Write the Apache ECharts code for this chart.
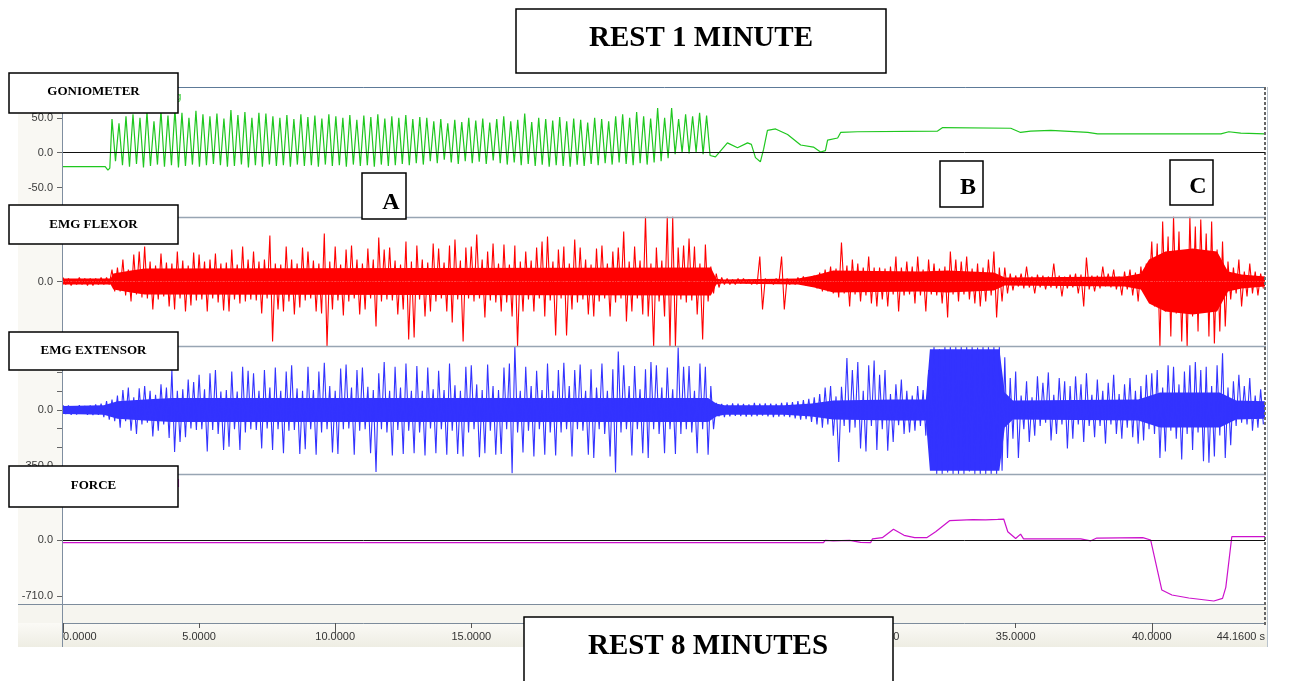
<!DOCTYPE html>
<html><head><meta charset="utf-8">
<script src="https://cdn.jsdelivr.net/npm/echarts@6/dist/echarts.min.js"></script>
<style>html,body{margin:0;padding:0;background:#fff;}#c{width:1289px;height:681px;}</style>
</head><body><div id="c"></div>
<script>
// ---------------- DATA ----------------
const T_MAX = 44.16;
const xTickLabels = [0, 5, 10, 15, 20, 25, 30, 35, 40, 44.16];
const xMajorTicks = [0, 10, 20, 30, 40];
const xMinorTicks = [5, 15, 25, 35];

const gonioTicks = [50, 0, -50];
const flexorTicks = [0];
const extensorLabels = [0, -350];
const extensorTicks = [350, 233.3, 116.7, 0, -116.7, -233.3, -350];
const forceTicks = [0, -710];

// goniometer (deg): lead-in, oscillation (alternating peak / trough from 1.8 s), tail
const gonioLead = [[0, -20], [1.55, -20], [1.65, -25], [1.72, -22]];
const gonioWaveStart = 1.8, gonioWaveStep = 0.1285;
const gonioWave = [
  48,-12, 42,-18, 52,-20, 55,-16, 50,-21, 58,-19, 45,-17, 60,-20, 53,-18, 62,-21, 57,-19, 50,-17, 60,-20, 55,-18, 52,-16,
  56,-18, 49,-20, 61,-19, 54,-17, 58,-21, 50,-18, 57,-20,
  56,-17, 52,-19, 50,-18, 54,-20, 48,-17, 55,-19, 51,-18, 53,-20, 49,-17, 55,-19, 52,-18, 50,-20, 54,-17, 47,-19, 53,-18,
  51,-20, 55,-17, 49,-19, 52,-18, 50,-16, 54,-18, 48,-15, 51,-17,
  50,-12, 45,-15, 48,-10, 42,-14, 47,-16, 44,-12, 50,-15, 46,-13, 49,-16, 43,-11, 48,-15, 52,-17, 45,-14, 47,-18, 56,-16,
  44,-19, 50,-17, 48,-20, 46,-18, 51,-19, 45,-20, 49,-17, 47,-19, 43,-16, 50,-18, 48,-15, 45,-17, 52,-14,
  55,-16, 50,-18, 58,-15, 52,-17, 49,-14, 64,-12, 50,-8, 64,-2, 48,0, 55,-1, 52,1, 57,-2, 53,-4
];
const gonioTail = [
  [23.97,-6],[24.41,14],[24.78,7],[25.15,14],[25.29,12],[25.44,-7],[25.62,-13],[25.74,5],[25.88,32],[26.18,34],
  [26.62,26],[27.10,11],[27.57,8],[27.83,1],[28.01,3],[28.09,18],[28.46,21],[28.57,29],[29.19,30],[32.13,31],
  [32.32,36],[34.82,35],[35.18,29],[35.55,31],[36.29,32],[37.65,29],[38.01,27],[42.54,27],[42.83,30],[43.27,28],[44.16,27]
];

// EMG samples every 0.1 s
const emgStep = 0.1;
const flexor = [
  4,-3,3,-4,2,-3,4,-3,3,-4,
  3,-4,3,-3,4,-3,4,-3,12,-10,
  14,-10,22,-14,12,-20,27,-13,30,-16,
  35,-17,20,-28,16,-18,28,-15,19,-25,
  18,-28,30,-17,21,-30,16,-24,29,-19,
  27,-18,20,-30,22,-17,28,-21,18,-29,
  19,-30,32,-18,17,-22,35,-20,22,-18,
  30,-19,20,-32,22,-17,46,-60,18,-28,
  17,-30,35,-20,22,-33,18,-26,34,-19,
  30,-17,21,-30,18,-32,48,-65,20,-28,
  35,-19,17,-34,32,-20,36,-17,22,-33,
  18,-28,33,-17,22,-45,44,-20,32,-18,
  34,-19,21,-33,17,-28,40,-58,20,-56,
  36,-18,22,-35,19,-30,38,-20,33,-17,
  19,-30,36,-41,42,-18,21,-60,34,-17,
  35,-20,47,-17,22,-36,30,-19,38,-21,
  18,-30,37,-21,17,-35,36,-65,20,-30,
  30,-18,21,-30,34,-17,40,-35,45,-19,
  20,-54,32,-17,35,-54,18,-28,42,-21,
  34,-18,22,-33,17,-35,33,-20,36,-17,
  18,-35,30,-21,34,-17,50,-40,20,-30,
  35,-17,21,-33,65,-35,18,-65,34,-20,
  21,-35,65,-65,65,-65,34,-18,36,-21,
  43,-19,35,-33,18,-58,37,-20,15,-12,
  8,-6,4,-3,3,-3,2,-3,3,-2,
  3,-2,2,-3,2,-3,25,-28,3,-2,
  2,-3,3,-2,25,-28,3,-3,2,-3,
  4,-3,5,-4,4,-5,6,-7,9,-10,
  12,-10,15,-12,13,-16,39,-12,16,-25,
  22,-13,18,-20,14,-14,25,-22,14,-25,
  14,-18,13,-25,15,-13,25,-30,14,-14,
  20,-13,15,-22,25,-14,12,-30,22,-13,
  18,-14,13,-22,15,-36,30,-13,22,-20,
  20,-13,25,-18,13,-22,18,-25,14,-20,
  22,-14,30,-36,14,-20,14,-12,8,-9,
  6,-5,8,-7,15,-6,5,-12,7,-6,
  6,-8,5,-6,18,-7,6,-15,5,-7,
  7,-6,8,-12,7,-25,24,-8,6,-10,
  6,-7,15,-5,8,-6,12,-8,5,-14,
  10,-8,12,-14,9,-20,15,-10,18,-12,
  40,-25,38,-65,60,-30,45,-55,65,-32,
  50,-60,30,-65,65,-35,55,-50,62,-30,
  48,-55,60,-62,32,-50,40,-45,20,-18,
  14,-12,22,-25,10,-15,18,-12,10,-14,
  8,-7
];
const flexorCore = [
  [0,3],[1.75,3],[1.85,8],[2.5,11],[3,13],[23.8,14],[24,3],[24.2,2],[27,3],[27.6,6],[28.3,11],[31.5,10],
  [32.5,11],[34.2,9],[34.6,4],[39,5],[39.6,8],[39.9,22],[40.5,30],[41.5,33],[42.4,30],[42.8,10],[43.3,7],[44.16,5]
];
const extensor = [
  30,-25,28,-30,22,-28,30,-24,26,-30,
  28,-32,35,-30,40,-45,55,-60,65,-70,
  90,-110,125,-70,140,-130,80,-150,135,-90,
  150,-80,120,-165,95,-130,160,-90,140,-175,
  250,-262,120,-200,130,-170,190,-115,175,-125,
  220,-120,130,-260,230,-125,250,-150,115,-250,
  125,-230,240,-120,115,-250,270,-140,245,-120,
  230,-125,120,-240,250,-115,140,-250,265,-120,
  120,-270,240,-130,280,-125,135,-275,120,-245,
  270,-120,125,-280,240,-140,295,-120,150,-265,
  120,-275,260,-120,285,-115,140,-280,250,-130,
  265,-120,145,-270,125,-388,230,-120,300,-140,
  120,-285,270,-125,140,-275,290,-130,120,-270,
  275,-140,120,-285,265,-115,130,-270,245,-120,
  125,-280,290,-130,155,-275,120,-290,270,-140,
  280,-120,160,-295,125,-270,285,-130,150,-280,
  125,-275,265,-120,290,-395,400,-140,120,-265,
  270,-130,150,-290,245,-120,125,-280,290,-140,
  120,-285,250,-140,295,-120,150,-290,250,-120,
  285,-130,120,-280,255,-300,140,-120,290,-150,
  120,-290,255,-390,365,-140,280,-120,150,-285,
  275,-120,130,-270,255,-300,300,-120,280,-150,
  140,-270,265,-120,130,-275,390,-150,270,-120,
  275,-140,120,-270,290,-120,270,-280,150,-120,
  45,-40,38,-45,35,-40,42,-36,40,-38,
  38,-42,35,-40,45,-38,40,-35,42,-40,
  40,-45,38,-42,44,-40,48,-45,50,-52,
  55,-60,62,-58,70,-75,80,-90,100,-110,
  140,-90,150,-160,85,-325,145,-100,325,-140,
  250,-110,300,-240,120,-260,280,-100,310,-250,
  220,-120,250,-255,100,-200,160,-95,190,-150,
  120,-140,90,-130,150,-100,125,-160,250,-300,
  400,-400,380,-400,400,-390,400,-400,395,-400,
  400,-400,400,-385,400,-400,390,-400,400,-400,
  400,-400,395,-400,400,-380,330,-300,200,-180,
  240,-300,90,-120,180,-200,80,-160,210,-100,
  170,-80,235,-190,95,-150,200,-90,180,-240,
  150,-180,210,-90,160,-200,230,-100,95,-170,
  190,-100,120,-210,170,-90,220,-150,100,-180,
  160,-110,200,-170,120,-210,150,-190,220,-120,
  230,-150,250,-300,140,-260,280,-130,270,-180,
  160,-310,240,-150,280,-250,300,-140,250,-320,
  270,-330,150,-290,280,-160,355,-300,140,-220,
  180,-100,220,-80,150,-90,200,-130,90,-110,
  130,-90
];
const extensorCore = [
  [0,25],[1.5,30],[2,55],[3,65],[4,75],[23.7,75],[24,40],[24.3,30],[26.5,30],[27.5,40],[28.3,60],[30.5,65],
  [31.7,65],[31.85,380],[34.4,380],[34.6,110],[34.9,60],[39.5,65],[40.3,110],[42.5,110],[43.1,60],[44.16,55]
];

// force (N)
const force = [
  [0,-34],[27.94,-34],[28.0,-5],[28.3,-10],[28.9,-5],[29.3,-30],[29.67,-34],[29.74,15],[30.1,30],[30.51,136],
  [30.9,60],[31.29,30],[31.73,30],[32.06,105],[32.57,245],[33.42,258],[33.9,255],[34.34,262],[34.56,266],[34.71,105],
  [35.0,20],[35.18,75],[35.29,15],[37.39,15],[37.76,-10],[37.98,25],[39.67,30],[39.96,0],[40.37,-634],[40.74,-697],
  [41.36,-735],[42.28,-773],[42.6,-740],[42.72,-600],[42.94,42],[44.16,42]
];

// ---------------- BUILD ----------------
const gonioData = gonioLead
  .concat(gonioWave.map((v, i) => [gonioWaveStart + i * gonioWaveStep, v]))
  .concat(gonioTail);
const flexorData = flexor.map((v, i) => [+(i * emgStep).toFixed(2), v]);
const extensorData = extensor.map((v, i) => [+(i * emgStep).toFixed(2), v]);

const SANS = '"Liberation Sans", Arial, sans-serif';
const SERIF = '"Liberation Serif", "Times New Roman", serif';
const panels = [
  { top: 87, height: 130 },
  { top: 217, height: 129 },
  { top: 346, height: 128 },
  { top: 474, height: 130 }
];
const fmt1 = v => Number(v).toFixed(1);

const yLabel = { fontSize: 11, color: '#3a3a3a', fontFamily: SANS, margin: 10 };
const yTick = { length: 6, lineStyle: { color: '#666', width: 1 } };

const xAxes = panels.map((p, i) => ({
  type: 'value', gridIndex: i, min: 0, max: T_MAX, show: false
}));
xAxes[3] = {
  type: 'value', gridIndex: 3, min: 0, max: T_MAX, position: 'bottom', offset: 19,
  axisLine: { show: true, onZero: false, lineStyle: { color: '#7d8c9c', width: 1 } },
  axisTick: { show: true, customValues: xMajorTicks, length: 10, lineStyle: { color: '#555' } },
  axisLabel: {
    show: true, customValues: xTickLabels, margin: 8, fontSize: 11, color: '#333', fontFamily: SANS,
    formatter: v => (Math.abs(v - T_MAX) < 1e-6 ? v.toFixed(4) + ' s' : v.toFixed(4)),
    alignMinLabel: 'left', alignMaxLabel: 'right'
  },
  splitLine: { show: false }
};
xAxes.push({
  type: 'value', gridIndex: 3, min: 0, max: T_MAX, position: 'bottom', offset: 19,
  axisLine: { show: false, onZero: false },
  axisTick: { show: true, customValues: xMinorTicks, length: 5, lineStyle: { color: '#555' } },
  axisLabel: { show: false }, splitLine: { show: false }
});

const yAxes = [
  { type: 'value', gridIndex: 0, min: -92, max: 94,
    axisLine: { show: false }, splitLine: { show: false },
    axisTick: Object.assign({ show: true, customValues: gonioTicks }, yTick),
    axisLabel: Object.assign({ customValues: gonioTicks, formatter: fmt1 }, yLabel) },
  { type: 'value', gridIndex: 1, min: -64.5, max: 64.5,
    axisLine: { show: false }, splitLine: { show: false },
    axisTick: Object.assign({ show: true, customValues: flexorTicks }, yTick),
    axisLabel: Object.assign({ customValues: flexorTicks, formatter: fmt1 }, yLabel) },
  { type: 'value', gridIndex: 2, min: -400, max: 400,
    axisLine: { show: false }, splitLine: { show: false },
    axisTick: Object.assign({ show: true, customValues: extensorTicks }, yTick),
    axisLabel: Object.assign({ customValues: extensorLabels, formatter: fmt1 }, yLabel) },
  { type: 'value', gridIndex: 3, min: -811, max: 837,
    axisLine: { show: false }, splitLine: { show: false },
    axisTick: Object.assign({ show: true, customValues: forceTicks }, yTick),
    axisLabel: Object.assign({ customValues: forceTicks, formatter: fmt1 }, yLabel) }
];

const zeroLine = {
  silent: true, symbol: 'none', label: { show: false }, animation: false,
  lineStyle: { color: '#111', width: 1, type: 'solid' }, data: [{ yAxis: 0 }]
};
const baseLine = { type: 'line', showSymbol: false, symbol: 'none', silent: true, animation: false };

const series = [
  Object.assign({}, baseLine, { name: 'GONIOMETER', xAxisIndex: 0, yAxisIndex: 0, data: gonioData, z: 3,
    lineStyle: { color: '#1fc71f', width: 1.2 }, markLine: zeroLine }),
  Object.assign({}, baseLine, { xAxisIndex: 1, yAxisIndex: 1, data: flexorCore.map(d => [d[0], d[1]]), z: 2,
    lineStyle: { width: 0, color: '#ff0000' }, areaStyle: { color: '#ff0000', opacity: 1 } }),
  Object.assign({}, baseLine, { xAxisIndex: 1, yAxisIndex: 1, data: flexorCore.map(d => [d[0], -d[1]]), z: 2,
    lineStyle: { width: 0, color: '#ff0000' }, areaStyle: { color: '#ff0000', opacity: 1 } }),
  Object.assign({}, baseLine, { name: 'EMG FLEXOR', xAxisIndex: 1, yAxisIndex: 1, data: flexorData, z: 3,
    lineStyle: { color: '#ff0000', width: 1.1 } }),
  Object.assign({}, baseLine, { xAxisIndex: 2, yAxisIndex: 2, data: extensorCore.map(d => [d[0], d[1]]), z: 2,
    lineStyle: { width: 0, color: '#3333ff' }, areaStyle: { color: '#3333ff', opacity: 1 } }),
  Object.assign({}, baseLine, { xAxisIndex: 2, yAxisIndex: 2, data: extensorCore.map(d => [d[0], -d[1]]), z: 2,
    lineStyle: { width: 0, color: '#3333ff' }, areaStyle: { color: '#3333ff', opacity: 1 } }),
  Object.assign({}, baseLine, { name: 'EMG EXTENSOR', xAxisIndex: 2, yAxisIndex: 2, data: extensorData, z: 3,
    lineStyle: { color: '#3333ff', width: 1.1 } }),
  Object.assign({}, baseLine, { name: 'FORCE', xAxisIndex: 3, yAxisIndex: 3, data: force, z: 3,
    lineStyle: { color: '#cc11cc', width: 1.2 }, markLine: zeroLine })
];

// ---------------- DECORATION ----------------
function hline(x1, x2, y, color, z, w) {
  return { type: 'line', silent: true, z: z, shape: { x1: x1, y1: y, x2: x2, y2: y }, style: { stroke: color, lineWidth: w || 1 } };
}
function box(x, y, w, h, text, font, tx, ty) {
  return [
    { type: 'rect', silent: true, z: 100, shape: { x: x, y: y, width: w, height: h },
      style: { fill: '#fff', stroke: '#000', lineWidth: 1.5 } },
    { type: 'text', silent: true, z: 101, x: tx, y: ty,
      style: { text: text, font: font, fill: '#000', textAlign: 'center', textVerticalAlign: 'middle' } }
  ];
}
const graphics = [
  { type: 'rect', silent: true, z: -1, shape: { x: 18, y: 87, width: 44, height: 517 }, style: { fill: '#f9f8f3' } },
  { type: 'rect', silent: true, z: -1, shape: { x: 18, y: 604, width: 1249, height: 19 }, style: { fill: '#f6f5ef' } },
  { type: 'rect', silent: true, z: -1, shape: { x: 18, y: 623, width: 1249, height: 24 },
    style: { fill: new echarts.graphic.LinearGradient(0, 0, 0, 1, [{ offset: 0, color: '#fbfaf6' }, { offset: 1, color: '#eeede3' }]) } },
  hline(63, 1266, 87.5, '#5d7a98', 5),
  hline(63, 1266, 217.5, '#98a5b3', 5, 1.5),
  hline(63, 1266, 346.5, '#98a5b3', 5, 1.5),
  hline(63, 1266, 474.5, '#98a5b3', 5, 1.5),
  hline(18, 1266, 604.5, '#7d8c9c', 5),
  { type: 'line', silent: true, z: 5, shape: { x1: 62.5, y1: 87, x2: 62.5, y2: 647 }, style: { stroke: '#7f8ea0', lineWidth: 1 } },
  { type: 'line', silent: true, z: 5, shape: { x1: 1265, y1: 87, x2: 1265, y2: 625 }, style: { stroke: '#666', lineWidth: 2, lineDash: [3, 2] } },
  { type: 'line', silent: true, z: 5, shape: { x1: 1267.5, y1: 87, x2: 1267.5, y2: 647 }, style: { stroke: '#b9c3cd', lineWidth: 1 } },
  { type: 'text', silent: true, z: 50, x: 163, y: 97, style: { text: 'deg', font: '11px ' + SANS, fill: '#33cc33', textVerticalAlign: 'middle' } },
  { type: 'text', silent: true, z: 50, x: 172, y: 484, style: { text: 'N', font: '11px ' + SANS, fill: '#dd22dd', textVerticalAlign: 'middle' } }
]
  .concat(box(9, 73, 169, 40, 'GONIOMETER', 'bold 13px ' + SERIF, 93.5, 92))
  .concat(box(9, 205, 169, 39, 'EMG FLEXOR', 'bold 13px ' + SERIF, 93.5, 224.5))
  .concat(box(9, 332, 169, 38, 'EMG EXTENSOR', 'bold 13px ' + SERIF, 93.5, 351))
  .concat(box(9, 466, 169, 41, 'FORCE', 'bold 13px ' + SERIF, 93.5, 486))
  .concat(box(516, 9, 370, 64, 'REST 1 MINUTE', 'bold 29px ' + SERIF, 701, 39))
  .concat(box(524, 617, 369, 70, 'REST 8 MINUTES', 'bold 29px ' + SERIF, 708, 647))
  .concat(box(362, 173, 44, 46, 'A', 'bold 24px ' + SERIF, 391, 203))
  .concat(box(940, 161, 43, 46, 'B', 'bold 24px ' + SERIF, 968, 188))
  .concat(box(1170, 160, 43, 45, 'C', 'bold 24px ' + SERIF, 1198, 187));

const chart = echarts.init(document.getElementById('c'), null, { renderer: 'canvas' });
chart.setOption({
  animation: false,
  backgroundColor: '#ffffff',
  grid: panels.map(p => ({ left: 63, right: 24, top: p.top, height: p.height })),
  xAxis: xAxes,
  yAxis: yAxes,
  series: series,
  graphic: { elements: graphics }
});
</script>
</body></html>
